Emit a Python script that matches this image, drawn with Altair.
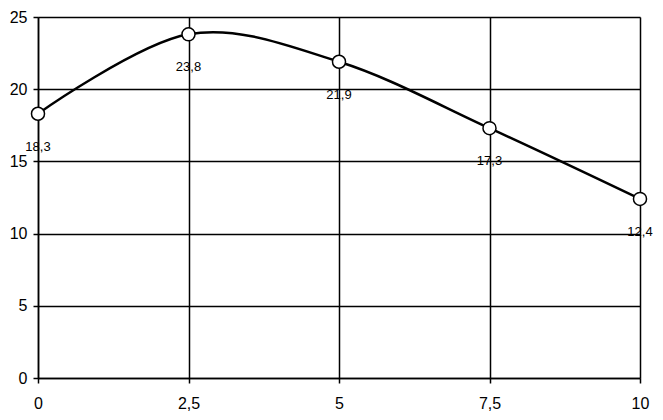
import altair as alt
import pandas as pd

xs = [0, 2.5, 5, 7.5, 10]
ys = [18.3, 23.8, 21.9, 17.3, 12.4]
labels = ["18,3", "23,8", "21,9", "17,3", "12,4"]

df = pd.DataFrame({"x": xs, "y": ys, "label": labels})

FONT = "Liberation Sans"

xenc = alt.X("x:Q", scale=alt.Scale(domain=[0, 10], nice=False),
             axis=alt.Axis(values=xs, title=None, grid=True, gridColor="black", gridWidth=1.5,
                           gridOpacity=1, domainColor="black", domainWidth=1.5,
                           tickColor="black", tickWidth=1.5, tickSize=5,
                           labelFont=FONT, labelFontSize=16, labelColor="black",
                           labelPadding=12, labelFlush=False,
                           labelExpr="replace(format(datum.value, '.1~f'), '.', ',')"))
yenc = alt.Y("y:Q", scale=alt.Scale(domain=[0, 25], nice=False),
             axis=alt.Axis(values=[0, 5, 10, 15, 20, 25], title=None, grid=True, gridColor="black",
                           gridWidth=1.5, gridOpacity=1, domainColor="black", domainWidth=1.5,
                           tickColor="black", tickWidth=1.5, tickSize=5,
                           labelFont=FONT, labelFontSize=16, labelColor="black",
                           labelPadding=6, labelFlush=False))

base = alt.Chart(df).encode(x=xenc, y=yenc)

line = base.mark_line(interpolate="cardinal", color="black", strokeWidth=2.5)
pts = base.mark_point(filled=True, fill="white", stroke="black", strokeWidth=1.5,
                      size=170, opacity=1)
txt = base.mark_text(dy=33, font=FONT, fontSize=13, color="black").encode(text="label:N")

chart = (line + pts + txt).properties(
    width=602, height=361,
    autosize=alt.AutoSizeParams(type="none"),
    padding={"left": 30, "top": 9, "right": 15, "bottom": 34},
).configure_view(stroke="black", strokeWidth=1.5).configure(background="white")

chart.save("out.html", embed_options={"renderer": "svg", "actions": False})
